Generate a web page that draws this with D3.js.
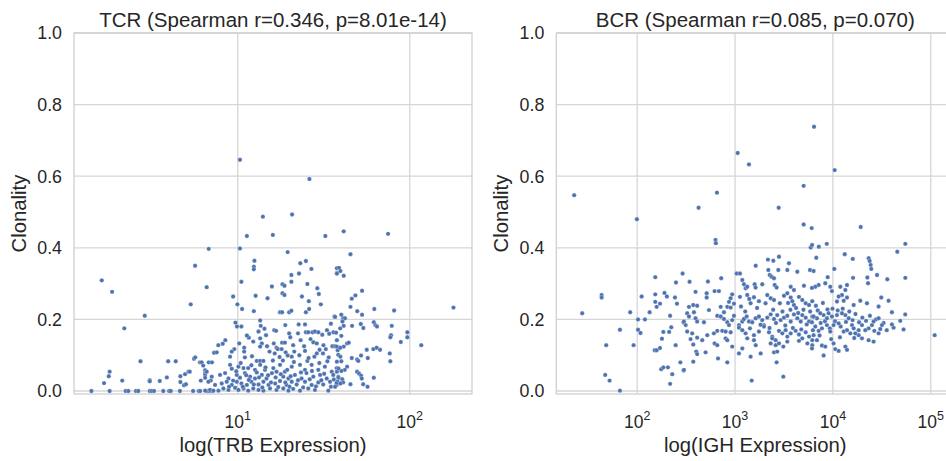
<!DOCTYPE html>
<html>
<head>
<meta charset="utf-8">
<script src="https://cdn.jsdelivr.net/npm/d3@7"></script>
<style>
  html, body { margin: 0; padding: 0; background: #ffffff; }
  svg { display: block; }
  text { font-family: Arial, "Liberation Sans", sans-serif; fill: #262626; }
</style>
</head>
<body>
<svg id="chart" width="946" height="461"></svg>
<script>
// Clonality vs. receptor-chain expression, one point per sample: [expression, clonality]
const tcrPoints = [
  [6.78,0.397],[5.65,0.350],[1.62,0.309],[1.86,0.277],[6.6,0.290],[5.33,0.242],[2.88,0.210],[2.19,0.175],
  [2.72,0.083],[3.94,0.083],[4.36,0.083],[1.80,0.054],[1.78,0.041],[1.67,0.022],[2.13,0.029],[3.08,0.030],
  [3.08,0.027],[3.52,0.028],[3.87,0.038],[4.64,0.041],[4.94,0.047],[5.17,0.054],[5.26,0.054],[4.64,0.025],
  [4.87,0.016],[5.0,0.019],[5.57,0.090],[5.66,0.094],[6.03,0.080],[6.17,0.080],[6.3,0.071],[6.46,0.058],
  [6.46,0.050],[6.46,0.045],[6.46,0.037],[6.78,0.080],[7.08,0.080],[6.1,0.029],[6.97,0.029],[7.28,0.107],
  [1.41,0],[1.80,0],[2.23,0],[2.31,0],[2.56,0],[2.64,0],[3.08,0],[3.16,0],[3.26,0],[3.69,0],[3.99,0],
  [4.08,0],[4.61,0],[5.50,0],[5.93,0],[6.04,0],[6.61,0],[6.78,0],[6.97,0],[7.16,0],
  [10.3,0.646],[26.1,0.592],[14.0,0.487],[20.7,0.493],
  [11.3,0.433],[16.0,0.436],[32.3,0.433],[10.3,0.398],[19.5,0.388],[12.5,0.364],[12.4,0.347],[12.4,0.340],
  [23.1,0.357],[24.9,0.363],[26.8,0.341],[20.5,0.324],[22.7,0.328],[37.7,0.343],[37.7,0.329],[10.5,0.305],
  [15.8,0.292],[18.2,0.298],[18.7,0.294],[18.2,0.273],[18.7,0.268],[20.5,0.305],[25.4,0.299],[29.0,0.287],
  [29.6,0.271],[9.4,0.264],[12.7,0.266],[14.9,0.259],[23.6,0.264],[25.9,0.251],[9.95,0.242],[10.6,0.229],
  [12.4,0.223],[17.6,0.220],[18.1,0.220],[19.9,0.220],[20.5,0.224],[24.9,0.220],[26.0,0.229],[30.4,0.242],
  [36.5,0.208],[13.5,0.197],[9.7,0.191],[22.6,0.186],[24.6,0.186],[34.8,0.188],[13.6,0.182],[14.3,0.174],
  [14.6,0.156],[9.9,0.180],[10.5,0.180],[16.3,0.170],[16.7,0.168],[18.9,0.184],[19.9,0.161],[22.4,0.161],
  [24.9,0.164],[25.7,0.164],[27.2,0.164],[28.1,0.166],[29.4,0.164],[31.0,0.157],[33.0,0.170],[34.0,0.160],
  [36.0,0.164],[8.47,0.142],[8.18,0.132],[7.71,0.128],[7.55,0.108],[10.2,0.133],[11.6,0.149],[13.2,0.166],
  [13.5,0.147],[13.8,0.133],[13.5,0.124],[10.9,0.121],[10.9,0.110],[9.55,0.117],[9.23,0.110],[9.02,0.096],
  [11.0,0.094],[16.2,0.133],[16.8,0.121],[17.1,0.117],[16.4,0.105],[18.1,0.135],[18.8,0.135],[18.0,0.117],
  [19.0,0.108],[19.5,0.099],[21.0,0.128],[21.3,0.110],[20.6,0.096],[24.3,0.125],[24.6,0.112],[27.5,0.136],
  [28.8,0.133],[28.8,0.105],[27.9,0.096],[31.5,0.128],[32.5,0.117],[31.3,0.105],[35.5,0.125],[36.8,0.125],
  [38.1,0.114],[12.9,0.084],[13.5,0.084],[14.1,0.084],[12.1,0.097],
  [9.02,0.073],[9.23,0.062],[10.09,0.068],[10.8,0.064],[11.5,0.064],[12.6,0.059],[13.5,0.073],[14.4,0.059],
  [16.1,0.064],[17.6,0.073],[18.8,0.054],[20.6,0.068],[23.0,0.073],[24.6,0.059],[26.9,0.073],[29.4,0.059],
  [32.1,0.068],[35.2,0.054],[37.6,0.064],
  [6.6,0.054],[7.06,0.040],[7.89,0.045],[8.44,0.050],[8.83,0.035],[9.87,0.045],[10.3,0.037],[11.0,0.050],
  [11.8,0.040],[12.6,0.035],[13.8,0.045],[14.7,0.035],[15.8,0.050],[16.8,0.054],[18.4,0.040],[19.7,0.035],
  [21.5,0.045],[23.5,0.035],[25.1,0.050],[27.5,0.040],[30.1,0.045],[32.9,0.035],[35.9,0.045],[38.4,0.040],
  [6.75,0.026],[7.38,0.017],[8.07,0.021],[8.63,0.026],[9.23,0.017],[9.87,0.026],[10.5,0.021],[11.3,0.017],
  [12.0,0.026],[13.2,0.018],[14.1,0.026],[15.1,0.017],[16.5,0.021],[17.6,0.028],[19.2,0.017],[20.6,0.026],
  [22.0,0.018],[24.6,0.026],[26.9,0.017],[29.4,0.024],[31.4,0.018],[34.4,0.026],[37.6,0.017],
  [6.46,0.001],[6.9,0.003],[7.22,0.001],[7.72,0.001],[8.25,0.007],[8.83,0.003],[9.65,0.009],[10.09,0.003],
  [10.8,0.007],[11.5,0.001],[12.3,0.007],[13.2,0.003],[14.1,0.001],[15.4,0.007],[16.8,0.003],[18.4,0.007],
  [19.7,0.001],[21.0,0.006],[23.0,0.001],[25.7,0.007],[28.1,0.003],[33.6,0.001],
  [8.9,0.012],[9.4,0.029],[9.8,0.055],[10.4,0.078],[10.7,0.012],[11.2,0.044],[11.6,0.031],[12.0,0.072],
  [12.4,0.018],[12.9,0.052],[13.3,0.038],[13.9,0.010],[14.5,0.066],[15.0,0.044],[15.6,0.024],[16.0,0.085],
  [16.6,0.038],[17.2,0.011],[17.8,0.047],[18.3,0.085],[18.9,0.024],[19.4,0.059],[20.0,0.012],[20.3,0.041],
  [21.2,0.081],[22.4,0.030],[23.3,0.052],[24.0,0.010],[25.4,0.084],[26.2,0.033],[27.0,0.056],[28.5,0.013],
  [29.8,0.078],[30.6,0.030],[31.8,0.048],[33.2,0.083],[34.8,0.012],[36.2,0.032],[15.3,0.110],[17.5,0.095],
  [22.8,0.100],[25.8,0.092],[29.9,0.115],[33.8,0.094],[14.8,0.125],[12.3,0.138],[11.3,0.155],[26.5,0.145],
  [23.2,0.142],[20.2,0.150],
  [41.3,0.446],[74.8,0.439],[45.2,0.382],[38.8,0.344],[39.5,0.335],[37.7,0.328],[41.3,0.322],[52.8,0.280],
  [48.3,0.267],[46.0,0.258],[45.2,0.235],[49.5,0.223],[52.8,0.213],[62.2,0.229],[81.1,0.225],[179.5,0.233],
  [40,0.213],[41,0.203],[42,0.203],[36.8,0.207],[40.6,0.194],[41.3,0.182],[39.4,0.175],[37.3,0.163],
  [51.9,0.187],[53.7,0.176],[61.8,0.192],[63.1,0.184],[64.5,0.180],[46.2,0.182],[78.6,0.182],[77.8,0.156],
  [77.1,0.150],[96.8,0.164],[96.8,0.150],[88.7,0.137],[116.6,0.128],[40,0.154],[37.7,0.142],[41.3,0.124],
  [43.2,0.133],[44.2,0.135],[37.7,0.124],[39.4,0.121],[56.2,0.115],[61.4,0.117],[64.2,0.121],[67.2,0.115],
  [76.5,0.105],[77.1,0.083],[57,0.092],[52.1,0.099],[49.4,0.088],[50.2,0.084],[46.0,0.092],[38.4,0.101],
  [39.5,0.096],[40,0.083],[37.7,0.082],[43.2,0.068],[41.9,0.059],[40,0.056],[37.7,0.054],[38.5,0.063],
  [49.4,0.054],[50.7,0.049],[52.1,0.043],[52.6,0.035],[61.8,0.037],[38.5,0.037],[40.5,0.033],[38,0.027],
  [41,0.024],[37.5,0.022],[39.5,0.021],[45.2,0.019],[53.6,0.019],[56.8,0.012],[36.8,0.012]
];

const bcrPoints = [
  [6412,0.738],[1064,0.665],[1387,0.633],[10420,0.617],[5023,0.573],[22.7,0.547],[653,0.554],[424,0.512],
  [2792,0.512],[99.3,0.480],[5023,0.465],[6067,0.455],[19230,0.458],[631,0.422],[636,0.413],
  [153,0.318],[291,0.328],[249,0.303],[43.3,0.268],[43.3,0.261],[27.4,0.217],[111,0.264],[153,0.270],
  [153,0.249],[171,0.244],[158,0.235],[190,0.274],[201,0.264],[243,0.261],[255,0.244],[84.8,0.220],
  [134,0.220],[102,0.200],[120,0.200],[217,0.210],[66.6,0.171],[102,0.171],[108,0.162],[185,0.165],
  [212,0.165],[223,0.178],[298,0.191],[179,0.146],[48.2,0.128],[91.8,0.128],[151,0.114],[158,0.114],
  [171,0.120],[247,0.128],[276,0.080],[298,0.057],[176,0.061],[185,0.066],[206,0.066],[228,0.047],
  [217,0.020],[47.1,0.045],[52.2,0.029],[66.6,0.001],
  [5929,0.401],[343,0.305],[722,0.315],[1038,0.328],[1122,0.328],[528,0.306],[1626,0.350],[2168,0.367],
  [2460,0.364],[2812,0.375],[3556,0.357],[2188,0.338],[2260,0.324],[2366,0.319],[2500,0.315],[2768,0.338],
  [3420,0.338],[4327,0.333],[5835,0.338],[1186,0.310],[1233,0.298],[1282,0.287],[1333,0.291],[1586,0.298],
  [1622,0.289],[1897,0.298],[2541,0.296],[2659,0.289],[3706,0.291],[3998,0.282],[5058,0.294],[395,0.277],
  [513,0.273],[513,0.261],[618,0.279],[684,0.279],[935,0.270],[901,0.259],[867,0.249],[833,0.235],
  [1122,0.263],[1333,0.268],[1397,0.257],[1442,0.245],[1560,0.262],[1754,0.251],[2134,0.268],[2312,0.259],
  [2500,0.254],[3162,0.266],[3420,0.273],[3706,0.261],[3846,0.251],[3998,0.240],[4498,0.263],[4863,0.254],
  [5272,0.245],[5702,0.240],[6152,0.251],[338,0.235],[374,0.240],[410,0.238],[541,0.226],[713,0.235],
  [770,0.220],[901,0.233],[975,0.244],[324,0.217],[338,0.208],[380,0.220],[395,0.203],[410,0.194],
  [300,0.194],[313,0.184],[481,0.192],[658,0.210],[713,0.208],[770,0.201],[833,0.192],[867,0.184],
  [935,0.198],[975,0.210],
  [1096,0.184],[1186,0.194],[1233,0.201],[1314,0.208],[1387,0.194],[1500,0.192],[1626,0.203],[1754,0.208],
  [1897,0.198],[1975,0.184],[2134,0.205],[2312,0.214],[2500,0.201],[2698,0.212],[2924,0.198],[3162,0.205],
  [3420,0.210],[3706,0.194],[3998,0.214],[4327,0.203],[4688,0.194],[4863,0.212],[5272,0.205],[5702,0.194],
  [6152,0.208],
  [324,0.166],[365,0.161],[410,0.149],[462,0.142],[520,0.156],[608,0.161],[658,0.168],[740,0.168],
  [801,0.166],[901,0.164],[1096,0.177],[1186,0.170],[1282,0.161],[1333,0.147],[1560,0.156],[1754,0.166],
  [1975,0.180],[2222,0.164],[2399,0.152],[2600,0.142],[2812,0.168],[3041,0.161],[3289,0.170],[3420,0.152],
  [3706,0.161],[4159,0.168],[4498,0.158],[4863,0.147],[5272,0.164],[5702,0.152],[6152,0.142],
  [351,0.145],[374,0.130],[401,0.110],[410,0.103],[500,0.108],[618,0.133],[658,0.128],[801,0.147],
  [833,0.142],[935,0.124],[1096,0.105],[1186,0.119],[1560,0.142],[1626,0.128],[1828,0.105],[2312,0.133],
  [2399,0.147],[2600,0.128],[2812,0.133],[3112,0.124],[3420,0.138],[4498,0.140],[5483,0.133],[6152,0.128],
  [1442,0.096],[2500,0.108],[2698,0.110],[833,0.080],[670,0.091],[374,0.082],[300,0.059],[1479,0.029],
  [3112,0.040],[2659,0.080],
  [1150,0.236],[1270,0.222],[1420,0.175],[1680,0.232],[1820,0.185],[2050,0.245],[2250,0.176],[2450,0.227],
  [2620,0.190],[2870,0.245],[3050,0.222],[3260,0.183],[3480,0.246],[3680,0.227],[3900,0.176],[4200,0.232],
  [4420,0.218],[4750,0.172],[5000,0.227],[5400,0.186],[5850,0.222],[6250,0.170],[6700,0.238],[7000,0.225],
  [7500,0.190],[7900,0.246],[8300,0.195],[8800,0.228],[9300,0.175],[9900,0.230],[10500,0.195],[11200,0.225],
  [12000,0.180],[12600,0.230],[13600,0.193],[14700,0.222],[15900,0.198],[17000,0.215],[18500,0.192],[20000,0.205],
  [21800,0.196],[23900,0.210],[26500,0.168],[27500,0.200],[33000,0.190],[35500,0.170],[9600,0.145],[11800,0.150],
  [7300,0.155],[16500,0.148],
  [54950,0.411],[45500,0.389],[8650,0.411],[7178,0.403],[6124,0.408],[6761,0.372],[13210,0.382],[15960,0.369],
  [23220,0.371],[23770,0.363],[24330,0.352],[24660,0.341],[10330,0.341],[6353,0.335],[28250,0.324],[8850,0.318],
  [16060,0.316],[22490,0.317],[22860,0.301],[35970,0.312],[54950,0.316],[109600,0.156],
  [7145,0.296],[6607,0.291],[6109,0.288],[8356,0.301],[9398,0.291],[9773,0.279],[11910,0.291],[13930,0.296],
  [13400,0.282],[12380,0.268],[11450,0.264],[11000,0.250],[13930,0.261],[12880,0.252],[16300,0.240],[19050,0.252],
  [22280,0.245],[29310,0.236],[37070,0.252],[31190,0.261],[40090,0.220],[54830,0.214],[48750,0.196],[52720,0.172],
  [41690,0.177],[40090,0.186],[29310,0.203],[31690,0.184],[30480,0.173],[29310,0.161],[26060,0.194],[25060,0.184],
  [23170,0.175],[19810,0.184],[21420,0.170],[18320,0.156],[16950,0.161],[15670,0.184],[14490,0.203],[13400,0.212],
  [12380,0.217],[11000,0.212],[9773,0.208],[9037,0.217],[8690,0.203],[8036,0.212],[7430,0.217],[6871,0.203],
  [6353,0.208],[6109,0.192],[6607,0.180],[7145,0.168],[7727,0.175],[8690,0.184],[9398,0.166],[10160,0.184],
  [11450,0.189],[12880,0.166],[13930,0.170],[15070,0.161],[19810,0.147],[23170,0.142],[26060,0.138],[16300,0.175],
  [18320,0.170],
  [6109,0.119],[7727,0.127],[8356,0.124],[8036,0.099],[10160,0.133],[10570,0.117],[11450,0.112],[13400,0.124],
  [13930,0.115],[6353,0.156],[6871,0.142]
];

const yTicks = [0.0, 0.2, 0.4, 0.6, 0.8, 1.0];
const tcrXTicks = [10, 100];
const bcrXTicks = [100, 1000, 10000, 100000];

const panels = [
  { title: "TCR (Spearman r=0.346, p=8.01e-14)", xLabel: "log(TRB Expression)",
    points: tcrPoints, xTicks: tcrXTicks, xDomain: [1.117, 230], left: 74 },
  { title: "BCR (Spearman r=0.085, p=0.070)", xLabel: "log(IGH Expression)",
    points: bcrPoints, xTicks: bcrXTicks, xDomain: [14.9, 174000], left: 556.3 }
];

const plotW = 398, plotTop = 33, plotBottom = 394;
const svg = d3.select("#chart");

panels.forEach((p, i) => {
  const x = d3.scaleLog().domain(p.xDomain).range([p.left, p.left + plotW]);
  const y = d3.scaleLinear().domain([-0.0084, 1.0]).range([plotBottom, plotTop]);
  const g = svg.append("g").attr("class", "panel-" + i);

  const clipId = "clip" + i;
  svg.append("clipPath").attr("id", clipId)
    .append("rect").attr("x", p.left).attr("y", plotTop).attr("width", plotW).attr("height", plotBottom - plotTop);

  // grid
  g.append("g").selectAll("line").data(yTicks).join("line")
    .attr("x1", p.left).attr("x2", p.left + plotW)
    .attr("y1", d => y(d)).attr("y2", d => y(d))
    .attr("stroke", "#d6d6d6").attr("stroke-width", 1.3);
  g.append("g").selectAll("line").data(p.xTicks).join("line")
    .attr("x1", d => x(d)).attr("x2", d => x(d))
    .attr("y1", plotTop).attr("y2", plotBottom)
    .attr("stroke", "#d6d6d6").attr("stroke-width", 1.3);

  // frame
  g.append("rect").attr("x", p.left).attr("y", plotTop).attr("width", plotW).attr("height", plotBottom - plotTop)
    .attr("fill", "none").attr("stroke", "#d0d0d0").attr("stroke-width", 1.3);

  // points
  g.append("g").attr("clip-path", `url(#${clipId})`)
    .selectAll("circle").data(p.points).join("circle")
    .attr("cx", d => x(d[0])).attr("cy", d => y(d[1])).attr("r", 2.2)
    .attr("fill", "#4c72b0").attr("stroke", "#ffffff").attr("stroke-width", 0.3);

  // y tick labels
  g.append("g").selectAll("text").data(yTicks).join("text")
    .attr("x", p.left - 12).attr("y", d => y(d)).attr("dy", "0.36em")
    .attr("text-anchor", "end").attr("font-size", 17.8)
    .text(d => d.toFixed(1));

  // x tick labels as 10^n
  const xt = g.append("g").selectAll("text").data(p.xTicks).join("text")
    .attr("x", d => x(d)).attr("y", 428).attr("text-anchor", "middle").attr("font-size", 17.5);
  xt.append("tspan").text("10");
  xt.append("tspan").attr("dy", -8).attr("font-size", 12.5).text(d => Math.round(Math.log10(d)));

  // title and axis labels
  g.append("text").attr("x", p.left + plotW / 2).attr("y", 27).attr("text-anchor", "middle")
    .attr("font-size", 20.5).text(p.title);
  g.append("text").attr("x", p.left + plotW / 2).attr("y", 452).attr("text-anchor", "middle")
    .attr("font-size", 20.3).text(p.xLabel);
  g.append("text").attr("transform", `translate(${p.left - 48},${(plotTop + plotBottom) / 2}) rotate(-90)`)
    .attr("text-anchor", "middle").attr("font-size", 20.3).text("Clonality");
});
</script>
</body>
</html>
